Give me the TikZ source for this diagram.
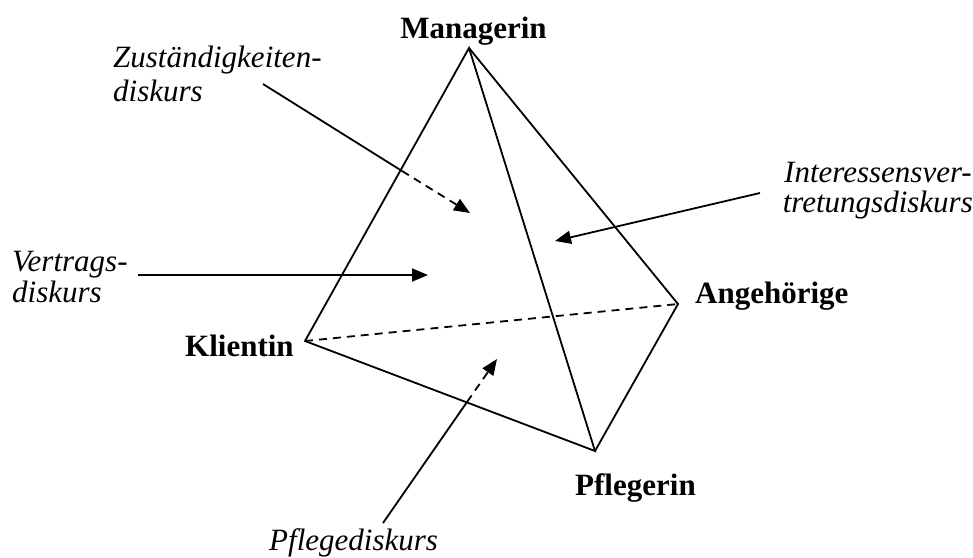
\documentclass[tikz,border=0pt]{standalone}
\usepackage{fontspec}
\setmainfont{Liberation Serif}
\usetikzlibrary{arrows.meta}

\tikzset{
  edge/.style={line width=1.8pt, line join=miter},
  hidden/.style={edge, dash pattern=on 8pt off 6pt},
  pointer/.style={line width=1.8pt},
  pointerhidden/.style={pointer, dash pattern=on 8pt off 6pt},
  tip/.style={-{Triangle[length=16pt,width=13pt]}},
  role/.style={inner sep=0pt, anchor=base, font=\fontsize{31}{36}\selectfont\bfseries},
  discourse/.style={inner sep=0pt, font=\fontsize{31}{36}\selectfont\itshape},
}

\begin{document}
\begin{tikzpicture}[x=1pt, y=-1pt]
  \useasboundingbox[fill=white] (0,0) rectangle (973,557);

  % corners of the tetrahedron
  \coordinate (M) at (469,48);
  \coordinate (K) at (305,341);
  \coordinate (A) at (678,304);
  \coordinate (P) at (595,451);

  % visible edges
  \draw[edge] (K) -- (M) -- (P) -- cycle;
  \draw[edge] (M) -- (A) -- (P);
  % hidden back edge
  \draw[hidden] (K) -- (A);

  % corner labels
  \node[role] (lm) at (473.5,38) {Managerin};
  \node[role, anchor=base west] (lk) at (185,356) {Klientin};
  \node[role, anchor=base west] (la) at (695,303) {Angehörige};
  \node[role, anchor=base west] (lp) at (575,495) {Pflegerin};

  % discourse labels
  \node[discourse, anchor=base west] (z1) at (113,67) {Zuständigkeiten-};
  \node[discourse, anchor=base west] (z2) at (113,101) {diskurs};
  \node[discourse, anchor=base west] (v1) at (12,271) {Vertrags-};
  \node[discourse, anchor=base west] (v2) at (12,302) {diskurs};
  \node[discourse, anchor=base east] (i1) at (972,182) {Interessensver-};
  \node[discourse, anchor=base east] (i2) at (973,212) {tretungsdiskurs};
  \node[discourse, anchor=base west] (pd) at (269,550) {Pflegediskurs};

  % pointer to the back face (Zuständigkeiten)
  \coordinate (zs) at (263,84);
  \coordinate (zc) at (402,171);
  \coordinate (zt) at (470,213);
  \draw[pointer] (zs) -- (zc);
  \draw[pointerhidden, tip] (zc) -- (zt);

  % pointer to the front left face (Vertrag)
  \coordinate (vs) at (138,275);
  \coordinate (vt) at (428,275);
  \draw[pointer, tip] (vs) -- (vt);

  % pointer to the front right face (Interessensvertretung)
  \coordinate (is) at (760,193);
  \coordinate (it) at (555,241);
  \draw[pointer, tip] (is) -- (it);

  % pointer to the bottom face (Pflege)
  \coordinate (ps) at (383,523);
  \coordinate (pc) at (467,402);
  \coordinate (pt) at (497,359);
  \draw[pointer] (ps) -- (pc);
  \draw[pointerhidden, tip] (pc) -- (pt);
\end{tikzpicture}
\end{document}
